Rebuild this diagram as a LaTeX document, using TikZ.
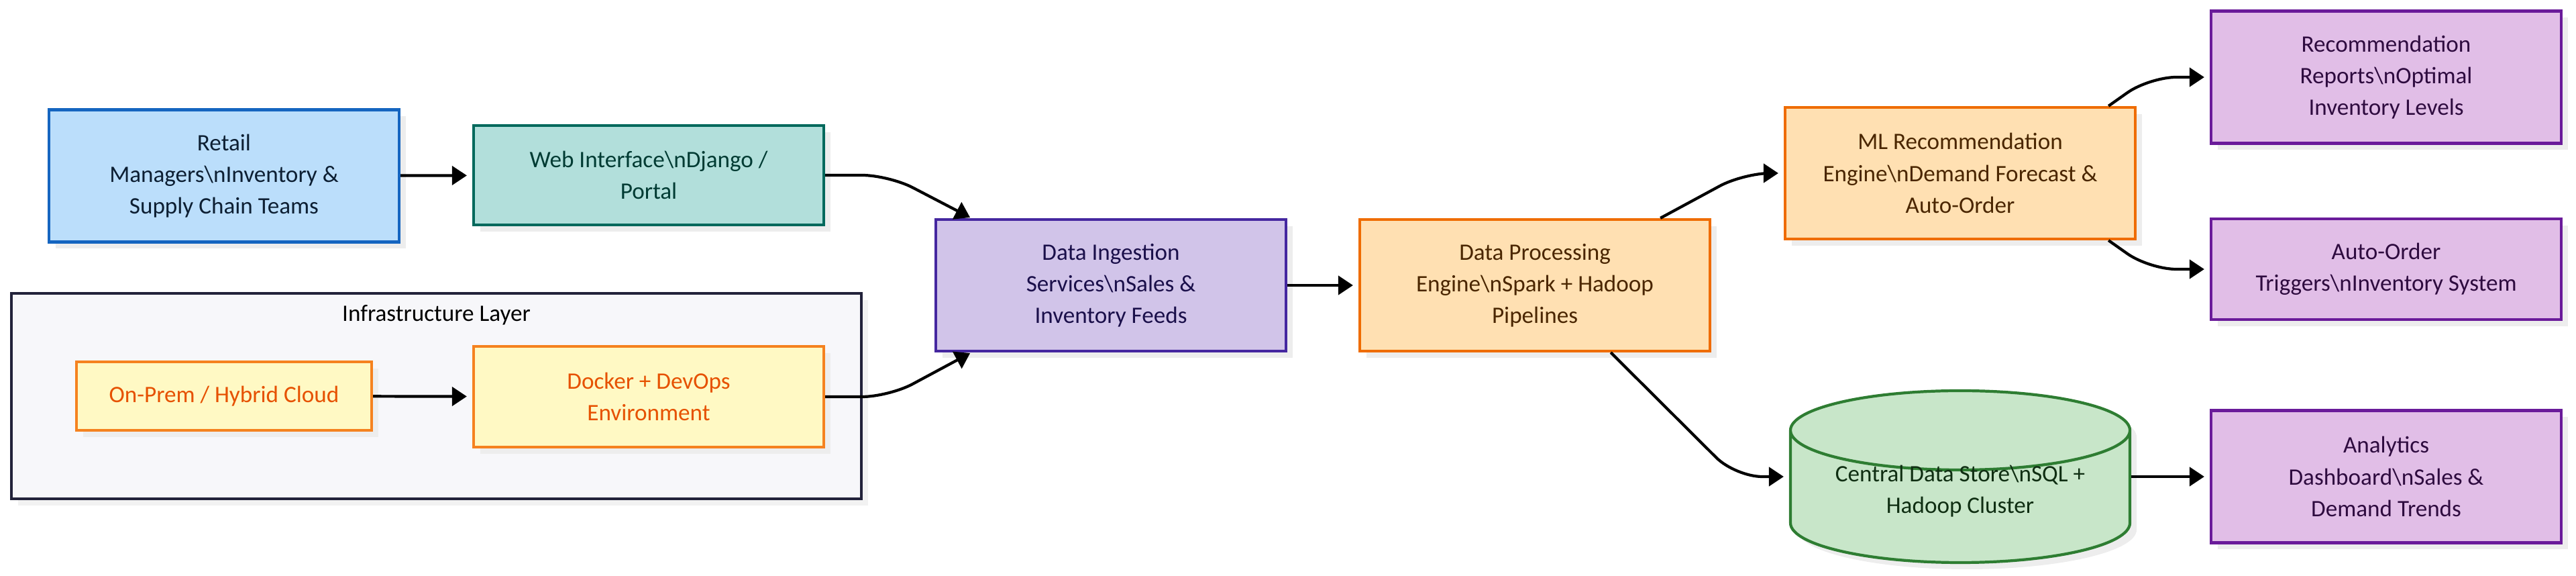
\documentclass[tikz,border=0pt]{standalone}
\usepackage{fontspec}
\setmainfont{Carlito}
\usepackage{tikz}
\usetikzlibrary{arrows.meta,shapes.geometric,shadows}
\definecolor{userfill}{HTML}{BBDEFB}
\definecolor{userdraw}{HTML}{1565C0}
\definecolor{usertext}{HTML}{0D1F33}
\definecolor{webfill}{HTML}{B2DFDB}
\definecolor{webdraw}{HTML}{00695C}
\definecolor{webtext}{HTML}{003B33}
\definecolor{infrafill}{HTML}{F7F7FA}
\definecolor{infradraw}{HTML}{22223A}
\definecolor{hostfill}{HTML}{FFF9C4}
\definecolor{hostdraw}{HTML}{F5821F}
\definecolor{hosttext}{HTML}{E65100}
\definecolor{ingfill}{HTML}{D1C4E9}
\definecolor{ingdraw}{HTML}{4527A0}
\definecolor{ingtext}{HTML}{1A0F4A}
\definecolor{procfill}{HTML}{FFE0B2}
\definecolor{procdraw}{HTML}{EF6C00}
\definecolor{proctext}{HTML}{4A2600}
\definecolor{outfill}{HTML}{E1BEE7}
\definecolor{outdraw}{HTML}{6A1B9A}
\definecolor{outtext}{HTML}{2E0B3F}
\definecolor{storefill}{HTML}{C8E6C9}
\definecolor{storedraw}{HTML}{2E7D32}
\definecolor{storetext}{HTML}{0F2E12}
\tikzset{
  box/.style      = {rectangle, line width=1.2pt, inner sep=3pt, align=center,
                     font=\fontsize{10}{13.4}\selectfont, minimum width=5.22cm,
                     drop shadow={shadow xshift=1mm, shadow yshift=-1mm,
                                  fill=black!7, opacity=1}},
  userbox/.style  = {box, draw=userdraw, fill=userfill, text=usertext},
  webbox/.style   = {box, draw=webdraw, fill=webfill, text=webtext},
  hostbox/.style  = {box, draw=hostdraw, fill=hostfill, text=hosttext},
  ingbox/.style   = {box, draw=ingdraw, fill=ingfill, text=ingtext},
  procbox/.style  = {box, draw=procdraw, fill=procfill, text=proctext},
  outbox/.style   = {box, draw=outdraw, fill=outfill, text=outtext},
  storebox/.style = {box, cylinder, shape border rotate=90, aspect=0.3,
                     draw=storedraw, fill=storefill, text=storetext},
  infrabox/.style = {rectangle, draw=infradraw, fill=infrafill, line width=1.4pt,
                     drop shadow={shadow xshift=1mm, shadow yshift=-1mm,
                                  fill=black!5, opacity=1}},
  flow/.style     = {-{Triangle[length=2.2mm,width=2.8mm]}, shorten >=0.8mm,
                     line width=1.2pt, black, rounded corners=4mm}
}
\begin{document}
\begin{tikzpicture}
  \useasboundingbox (0,0) rectangle (38.4,8.58);
  % infrastructure layer
  \node[infrabox, minimum width=12.67cm, minimum height=3.06cm] (infra) at (6.505,2.68) {};
  \node[anchor=north, font=\fontsize{10}{13.4}\selectfont] (infratitle)
       at ([yshift=-0.7mm]infra.north) {Infrastructure Layer};
  \node[hostbox, minimum width=4.40cm, minimum height=1.02cm] (onprem) at (3.34,2.68)
       {On-Prem / Hybrid Cloud};
  \node[hostbox, minimum height=1.50cm] (docker) at (9.67,2.67)
       {Docker + DevOps\\Environment};
  % users and entry
  \node[userbox, minimum height=1.97cm] (retail) at (3.34,5.96)
       {Retail\\Managers\textbackslash nInventory \&\\Supply Chain Teams};
  \node[webbox, minimum height=1.48cm] (web) at (9.67,5.97)
       {Web Interface\textbackslash nDjango /\\Portal};
  % pipeline
  \node[ingbox, minimum height=1.96cm] (ing) at (16.56,4.33)
       {Data Ingestion\\Services\textbackslash nSales \&\\Inventory Feeds};
  \node[procbox, minimum height=1.96cm] (proc) at (22.88,4.33)
       {Data Processing\\Engine\textbackslash nSpark + Hadoop\\Pipelines};
  \node[procbox, minimum height=1.96cm] (ml) at (29.22,6.00)
       {ML Recommendation\\Engine\textbackslash nDemand Forecast \&\\Auto-Order};
  \node[storebox, minimum width=5.06cm, minimum height=2.56cm, anchor=shape center]
       (store) at (29.22,1.48) {\raisebox{0.9mm}[0pt][0pt]{\begin{tabular}{@{}c@{}}
       Central Data Store\textbackslash nSQL +\\Hadoop Cluster\end{tabular}}};
  % outputs
  \node[outbox, minimum height=1.97cm] (rec) at (35.57,7.43)
       {Recommendation\\Reports\textbackslash nOptimal\\Inventory Levels};
  \node[outbox, minimum height=1.50cm] (auto) at (35.57,4.57)
       {Auto-Order\\Triggers\textbackslash nInventory System};
  \node[outbox, minimum height=1.97cm] (dash) at (35.57,1.48)
       {Analytics\\Dashboard\textbackslash nSales \&\\Demand Trends};
  % connectors
  \draw[flow] (retail) -- (web);
  \draw[flow] (onprem) -- (docker);
  \draw[flow, shorten >=0.2mm] (web.east) -- ++(0.95,0) -- ([xshift=5.5mm]ing.north west);
  \draw[flow, shorten >=0.2mm] (docker.east) -- ++(0.95,0) -- ([xshift=5.5mm]ing.south west);
  \draw[flow] (ing) -- (proc);
  \draw[flow] ([xshift=-7.6mm]proc.north east) -- ([xshift=-6mm]ml.west) -- (ml.west);
  \draw[flow] ([xshift=-15mm]proc.south east)
              -- ([xshift=-8mm]store.west |- store.shape center) -- (store.west |- store.shape center);
  \draw[flow] ([xshift=-4.2mm]ml.north east) -- ([xshift=-9mm]rec.west) -- (rec.west);
  \draw[flow] ([xshift=-4.2mm]ml.south east) -- ([xshift=-9mm]auto.west) -- (auto.west);
  \draw[flow] (store.east |- store.shape center) -- (dash.west);
\end{tikzpicture}
\end{document}
